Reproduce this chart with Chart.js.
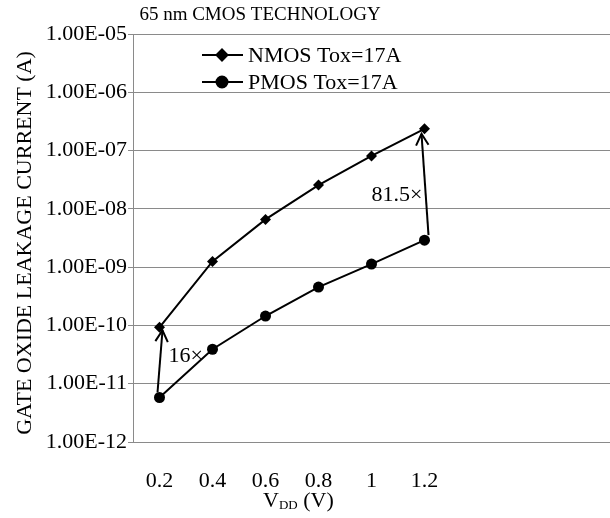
<!DOCTYPE html>
<html><head><meta charset="utf-8">
<script src="https://cdn.jsdelivr.net/npm/chart.js@4/dist/chart.umd.min.js"></script>
<style>html,body{margin:0;padding:0;background:#fff}</style>
</head><body>
<canvas id="c" width="610" height="518"></canvas>
<script>
// ---- data ----
const vdd = [0.2, 0.4, 0.6, 0.8, 1.0, 1.2];
const nmosLeak = [9.3e-11, 1.25e-9, 6.6e-9, 2.56e-8, 8.1e-8, 2.36e-7];
const pmosLeak = [5.8e-12, 3.9e-11, 1.45e-10, 4.55e-10, 1.13e-9, 2.9e-9];
const yTickValues = [1e-12, 1e-11, 1e-10, 1e-9, 1e-8, 1e-7, 1e-6, 1e-5];
const xTickValues = [0.2, 0.4, 0.6, 0.8, 1.0, 1.2];
const seriesNames = ['NMOS Tox=17A', 'PMOS Tox=17A'];
const chartTitle = '65 nm CMOS TECHNOLOGY';
const yTitle = 'GATE OXIDE LEAKAGE CURRENT (A)';
const xTitleParts = ['V', 'DD', ' (V)'];
const ratioLabels = ['16\u00d7', '81.5\u00d7'];

const FONT = '"Liberation Serif", "Times New Roman", serif';
const GRID = '#8a8a8a';

function sci(v) {
  const [m, e] = v.toExponential(2).split('e');
  const n = parseInt(e, 10);
  return m + 'E' + (n < 0 ? '-' : '+') + String(Math.abs(n)).padStart(2, '0');
}

function arrow(ctx, x1, y1, x2, y2) {
  ctx.beginPath(); ctx.moveTo(x1, y1); ctx.lineTo(x2, y2); ctx.stroke();
  const a = Math.atan2(y2 - y1, x2 - x1), L = 13, w = 0.5;
  ctx.beginPath();
  ctx.moveTo(x2 - L * Math.cos(a - w), y2 - L * Math.sin(a - w));
  ctx.lineTo(x2, y2);
  ctx.lineTo(x2 - L * Math.cos(a + w), y2 - L * Math.sin(a + w));
  ctx.stroke();
}

function noPad(s) { s.paddingLeft = 0; s.paddingRight = 0; s.paddingTop = 0; s.paddingBottom = 0; }

const decor = {
  id: 'decor',
  afterDatasetsDraw(chart) {
    const ctx = chart.ctx, xs = chart.scales.x, ys = chart.scales.y;
    ctx.save();
    ctx.strokeStyle = '#000'; ctx.fillStyle = '#000'; ctx.lineWidth = 2;
    // ratio arrows
    const i0 = 0, i1 = vdd.length - 1;
    arrow(ctx, xs.getPixelForValue(vdd[i0]) - 2, ys.getPixelForValue(pmosLeak[i0]) - 5,
               xs.getPixelForValue(vdd[i0]) + 3, ys.getPixelForValue(nmosLeak[i0]) + 3);
    arrow(ctx, xs.getPixelForValue(vdd[i1]) + 4, ys.getPixelForValue(pmosLeak[i1]) - 5,
               xs.getPixelForValue(vdd[i1]) - 3, ys.getPixelForValue(nmosLeak[i1]) + 5);
    ctx.font = '22px ' + FONT;
    ctx.textBaseline = 'middle';
    ctx.textAlign = 'left';
    ctx.fillText(ratioLabels[0], xs.getPixelForValue(vdd[i0]) + 9, ys.getPixelForValue(nmosLeak[i0]) + 29);
    ctx.textAlign = 'right';
    ctx.fillText(ratioLabels[1], xs.getPixelForValue(vdd[i1]) - 2, (ys.getPixelForValue(nmosLeak[i1]) + ys.getPixelForValue(pmosLeak[i1])) / 2 + 11);

    // legend
    chart.data.datasets.forEach((ds, k) => {
      const y = 55 + k * 27;
      ctx.lineWidth = 2;
      ctx.beginPath(); ctx.moveTo(202, y); ctx.lineTo(243, y); ctx.stroke();
      Chart.helpers.drawPoint(ctx, { pointStyle: ds.pointStyle, radius: ds.pointRadius, rotation: 0, borderWidth: 1 }, 222, y);
      ctx.fill();
      ctx.textAlign = 'left'; ctx.textBaseline = 'middle';
      ctx.font = '22px ' + FONT;
      ctx.fillText(ds.label, 248, y + 1);
    });

    // title
    ctx.font = '19px ' + FONT;
    ctx.textAlign = 'center'; ctx.textBaseline = 'middle';
    ctx.fillText(chartTitle, 260, 15);

    // y title
    ctx.save();
    ctx.translate(25, 243); ctx.rotate(-Math.PI / 2);
    ctx.font = '22px ' + FONT;
    ctx.textAlign = 'center'; ctx.textBaseline = 'middle';
    ctx.fillText(yTitle, 0, 0);
    ctx.restore();

    // x title with subscript
    ctx.textAlign = 'left'; ctx.textBaseline = 'alphabetic';
    let x = 263; const base = 507;
    ctx.font = '22px ' + FONT; ctx.fillText(xTitleParts[0], x, base); x += ctx.measureText(xTitleParts[0]).width;
    ctx.font = '13px ' + FONT; ctx.fillText(xTitleParts[1], x, base + 2); x += ctx.measureText(xTitleParts[1]).width;
    ctx.font = '22px ' + FONT; ctx.fillText(xTitleParts[2], x, base);
    ctx.restore();
  }
};

new Chart(document.getElementById('c'), {
  type: 'line',
  data: {
    datasets: [
      { label: seriesNames[0], data: vdd.map((v, i) => ({ x: v, y: nmosLeak[i] })),
        borderColor: '#000', backgroundColor: '#000', borderWidth: 2,
        pointStyle: 'rectRot', pointRadius: 5.5, pointBorderWidth: 0, tension: 0 },
      { label: seriesNames[1], data: vdd.map((v, i) => ({ x: v, y: pmosLeak[i] })),
        borderColor: '#000', backgroundColor: '#000', borderWidth: 2,
        pointStyle: 'circle', pointRadius: 5.5, pointBorderWidth: 0, tension: 0 }
    ]
  },
  options: {
    responsive: false, animation: false, devicePixelRatio: 1,
    layout: { autoPadding: false, padding: { top: 34, left: 0, right: 0, bottom: 0 } },
    plugins: { legend: { display: false }, tooltip: { enabled: false }, title: { display: false } },
    scales: {
      x: {
        type: 'linear', min: 0.1, max: 1.9,
        afterBuildTicks: s => { s.ticks = xTickValues.map(v => ({ value: v })); },
        afterFit: s => { s.height = 76; noPad(s); },
        grid: { display: false, drawTicks: false },
        border: { display: true, color: GRID, width: 1 },
        ticks: { autoSkip: false, maxRotation: 0, padding: 26, color: '#000',
                 font: { family: FONT, size: 22 }, callback: v => String(+v.toFixed(1)) }
      },
      y: {
        type: 'logarithmic', min: 1e-12, max: 1e-5,
        afterBuildTicks: s => { s.ticks = yTickValues.map(v => ({ value: v })); },
        afterFit: s => { s.width = 133; noPad(s); },
        grid: { color: GRID, lineWidth: 1, tickLength: 5, tickColor: GRID },
        border: { display: true, color: GRID, width: 1 },
        ticks: { autoSkip: false, padding: 1, color: '#000',
                 font: { family: FONT, size: 22 }, callback: v => sci(v) }
      }
    }
  },
  plugins: [decor]
});
</script>
</body></html>
